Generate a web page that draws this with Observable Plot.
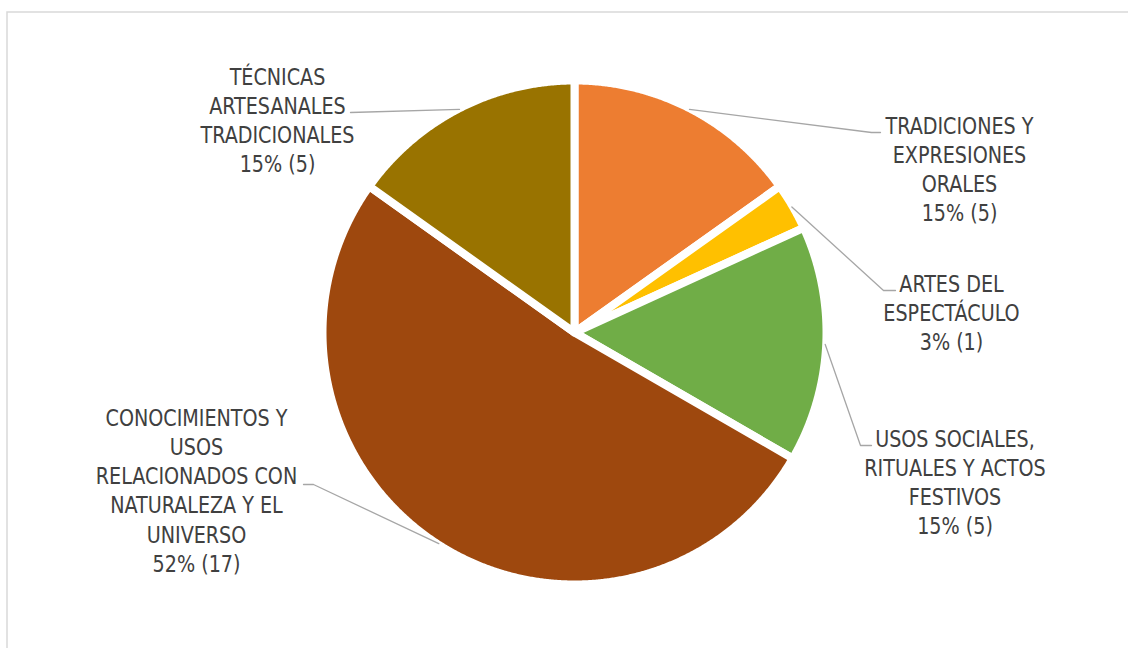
<!DOCTYPE html>
<html><head><meta charset="utf-8">
<script src="https://cdn.jsdelivr.net/npm/d3@7"></script>
<script src="https://cdn.jsdelivr.net/npm/@observablehq/plot@0.6"></script>
<style>html,body{margin:0;padding:0;background:#fff;} #chart svg{display:block;background:#fff}</style>
</head><body><div id="chart"></div>
<script>
// ---- data ----
const categories = [
  "TRADICIONES Y EXPRESIONES ORALES",
  "ARTES DEL ESPECTÁCULO",
  "USOS SOCIALES, RITUALES Y ACTOS FESTIVOS",
  "CONOCIMIENTOS Y USOS RELACIONADOS CON NATURALEZA Y EL UNIVERSO",
  "TÉCNICAS ARTESANALES TRADICIONALES"
];
const counts = [5, 1, 5, 17, 5];
const colors = ["#ED7D31", "#FFC000", "#70AD47", "#9E480E", "#997300"];
const labelLines = [
  ["TRADICIONES Y", "EXPRESIONES", "ORALES"],
  ["ARTES DEL", "ESPECTÁCULO"],
  ["USOS SOCIALES,", "RITUALES Y ACTOS", "FESTIVOS"],
  ["CONOCIMIENTOS Y", "USOS", "RELACIONADOS CON", "NATURALEZA Y EL", "UNIVERSO"],
  ["TÉCNICAS", "ARTESANALES", "TRADICIONALES"]
];

// ---- layout ----
const W = 1128, H = 648;
const pieCenter = [574, 332], pieRadius = 252, leaderRadius = 251;
const labelCenterX = [959, 951, 954.5, 196, 277];
const labelFirstBaseline = [133, 291, 446, 425, 84];
const lineStep = 29.3;
const leaderElbow = [[871, 132], [883, 290], [860, 445], [313, 484], [350, 112]];
const leaderEnd = [[880, 132], [895, 290], [871, 445], [303, 484], [350, 112]];

// font: Calibri-like proportions (narrow), emulate with horizontally condensed sans
const candidates = ["Liberation Sans Narrow", "Arial Narrow", "DejaVu Sans Condensed"];
function hasFont(f) {
  const c = document.createElement("canvas").getContext("2d");
  c.font = "40px monospace"; const a = c.measureText("TRADICIONES Y ABC").width;
  c.font = `40px "${f}", monospace`; const b = c.measureText("TRADICIONES Y ABC").width;
  return a !== b;
}
const narrow = candidates.find(hasFont);
const family = narrow || "Liberation Sans";
const fontSize = narrow ? 22.4 : 22;
const ctx = document.createElement("canvas").getContext("2d");
ctx.font = `${fontSize}px "${family}"`;
const scaleX = 148 / ctx.measureText("TRADICIONES Y").width;

// ---- derived geometry ----
const total = d3.sum(counts);
const arcs = d3.pie().sort(null).value(d => d)(counts);
const pt = (a, r) => [pieCenter[0] + r * Math.sin(a), pieCenter[1] - r * Math.cos(a)];

const slicePts = [];
arcs.forEach((a, i) => {
  const n = Math.max(2, Math.ceil((a.endAngle - a.startAngle) / 0.005));
  slicePts.push({name: categories[i], x: pieCenter[0], y: pieCenter[1]});
  for (let k = 0; k <= n; k++) {
    const ang = a.startAngle + (a.endAngle - a.startAngle) * k / n;
    const [x, y] = pt(ang, pieRadius);
    slicePts.push({name: categories[i], x, y});
  }
  slicePts.push({name: categories[i], x: pieCenter[0], y: pieCenter[1]});
});

const leaderPts = [];
arcs.forEach((a, i) => {
  const [x0, y0] = pt((a.startAngle + a.endAngle) / 2, leaderRadius);
  leaderPts.push({name: categories[i], x: x0, y: y0});
  leaderPts.push({name: categories[i], x: leaderElbow[i][0], y: leaderElbow[i][1]});
  leaderPts.push({name: categories[i], x: leaderEnd[i][0], y: leaderEnd[i][1]});
});

const textRows = [];
labelLines.forEach((lines, i) => {
  const all = lines.concat([`${Math.round(counts[i] / total * 100)}% (${counts[i]})`]);
  all.forEach((t, j) => textRows.push({
    text: t, x: labelCenterX[i], y: labelFirstBaseline[i] + j * lineStep - 0.32 * fontSize
  }));
});

const chart = Plot.plot({
  width: W, height: H,
  margin: 0,
  x: {domain: [0, W], range: [0, W], axis: null},
  y: {domain: [0, H], range: [0, H], axis: null},
  color: {domain: categories, range: colors},
  style: {background: "#fff"},
  marks: [
    Plot.frame({stroke: "#D9D9D9", strokeWidth: 1.5, insetLeft: 6.5, insetTop: 11.5, insetRight: -5, insetBottom: -5}),
    Plot.line(slicePts, {x: "x", y: "y", z: "name", fill: "name", stroke: "#fff", strokeWidth: 8, strokeLinejoin: "round"}),
    Plot.line(leaderPts, {x: "x", y: "y", z: "name", stroke: "#A6A6A6", strokeWidth: 1.3}),
    Plot.text(textRows, {x: "x", y: "y", text: "text", textAnchor: "middle", fill: "#404040",
      fontFamily: family, fontSize: fontSize})
  ]
});
// condense label glyphs horizontally to match the reference's narrow typeface
if (Math.abs(scaleX - 1) > 0.01) {
  chart.querySelectorAll('g[aria-label="text"] text').forEach(t => {
    const tr = t.getAttribute("transform") || "";
    t.setAttribute("transform", `${tr} scale(${scaleX.toFixed(4)},1)`);
  });
}
document.getElementById("chart").appendChild(chart);
</script>
</body></html>
